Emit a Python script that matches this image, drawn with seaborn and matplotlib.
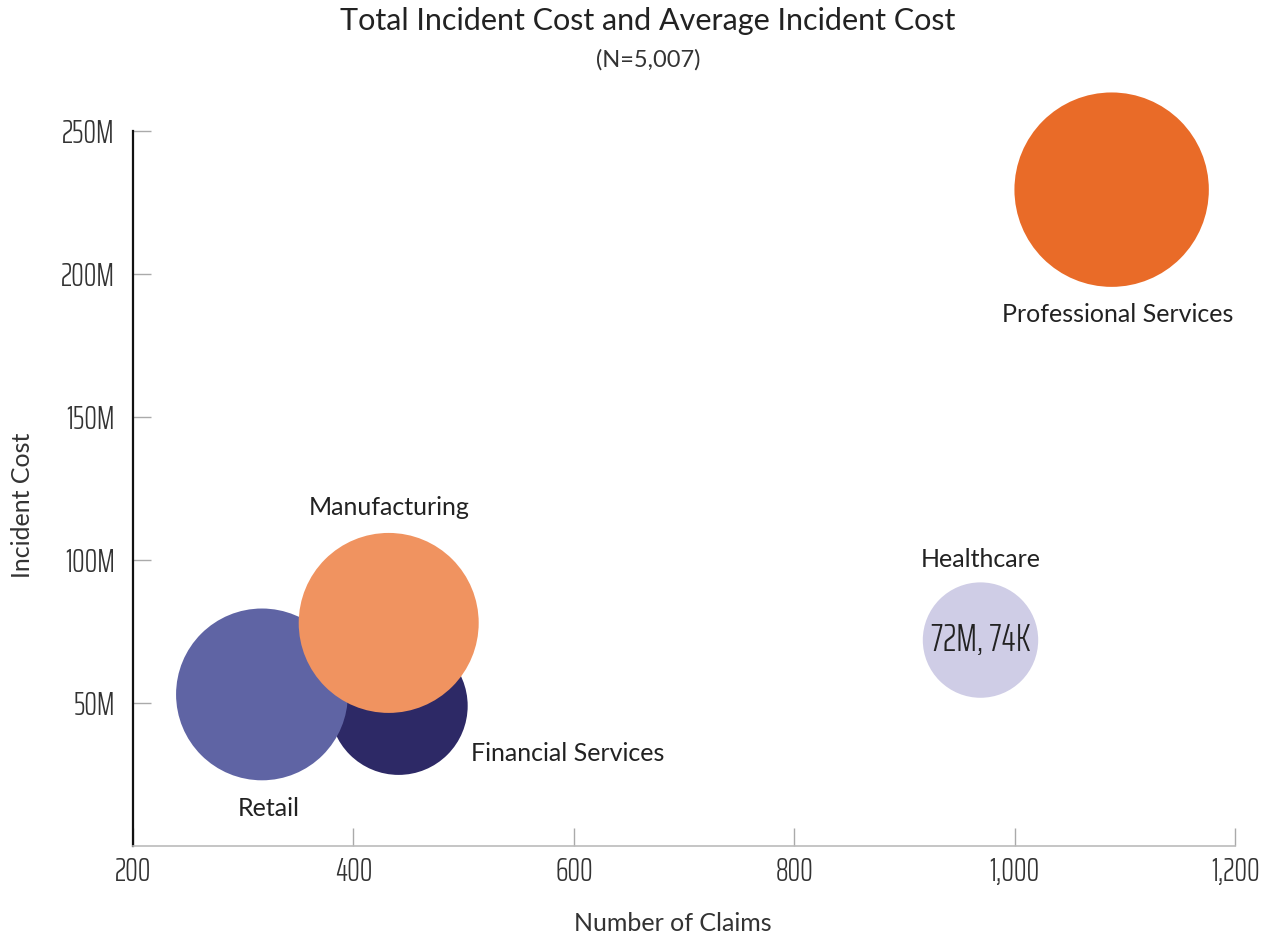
import matplotlib
matplotlib.use("Agg")
import matplotlib.pyplot as plt
import seaborn as sns
import pandas as pd
from matplotlib.ticker import FuncFormatter, FixedLocator

# Industry data: claims count, total incident cost (millions), average cost (thousands)
industries = ["Professional Services", "Healthcare", "Financial Services", "Retail", "Manufacturing"]
claims = [1088, 969, 441, 317, 432]
total_cost_m = [229.5, 72, 49, 53, 78]
avg_cost_k = [210, 74, 106, 164, 180]
colors = ["#E96B28", "#CFCDE6", "#2D2966", "#5F64A4", "#F09360"]

x_ticks = [200, 400, 600, 800, 1000, 1200]
y_ticks = [50, 100, 150, 200, 250]

sns.set_theme(style="white")
plt.rcParams["font.family"] = ["Lato", "DejaVu Sans"]

df = pd.DataFrame({"industry": industries, "claims": claims,
                   "cost": total_cost_m, "avg": avg_cost_k})

fig = plt.figure(figsize=(12.73, 9.38), dpi=100)
ax = fig.add_axes([0.1045, 0.0981, 0.8657, 0.7622])

# bubble area proportional to average incident cost
area_per_k = 93.3
sns.scatterplot(data=df, x="claims", y="cost", hue="industry",
                palette=dict(zip(industries, colors)), size="avg",
                sizes=(0, 250 * area_per_k), size_norm=(0, 250),
                linewidth=0, alpha=1, legend=False, ax=ax, clip_on=False)

ax.set_xlim(200, 1200)
ax.set_ylim(0, 250)

narrow = ["Saira ExtraCondensed", "DejaVu Sans"]
ax.xaxis.set_major_locator(FixedLocator(x_ticks))
ax.yaxis.set_major_locator(FixedLocator(y_ticks))
ax.xaxis.set_major_formatter(FuncFormatter(lambda v, p: f"{v:,.0f}"))
ax.yaxis.set_major_formatter(FuncFormatter(lambda v, p: f"{v:.0f}M"))
for lab in ax.get_xticklabels() + ax.get_yticklabels():
    lab.set_family(narrow)
    lab.set_fontweight(300)
    lab.set_fontsize(23)
    lab.set_color("#333333")

ax.tick_params(axis="x", direction="in", length=13, width=1, color="#aaaaaa", pad=8,
               bottom=True)
ax.tick_params(axis="y", direction="in", length=13, width=1, color="#aaaaaa", pad=13,
               left=True)

for s in ["top", "right"]:
    ax.spines[s].set_visible(False)
ax.spines["left"].set_color("#111111")
ax.spines["left"].set_linewidth(1.6)
ax.spines["bottom"].set_color("#bbbbbb")
ax.spines["bottom"].set_linewidth(1.2)

ax.set_xlabel("Number of Claims", fontsize=18, color="#333333")
ax.set_ylabel("Incident Cost", fontsize=18, color="#333333")
ax.xaxis.set_label_coords(0.49, -0.092)
ax.yaxis.set_label_coords(-0.09, 0.477)

# category labels placed around each bubble (offsets in points)
label_pos = {
    "Professional Services": ((4, -90), "center", "center"),
    "Healthcare": ((0, 58), "center", "center"),
    "Financial Services": ((52, -34), "left", "center"),
    "Retail": ((5, -82), "center", "center"),
    "Manufacturing": ((0, 83), "center", "center"),
}
for name, x, y in zip(industries, claims, total_cost_m):
    off, ha, va = label_pos[name]
    ax.annotate(name, (x, y), xytext=off, textcoords="offset points",
                ha=ha, va=va, fontsize=18, color="#222222",
                annotation_clip=False)

# value label inside the Healthcare bubble
hi = industries.index("Healthcare")
ax.annotate(f"{total_cost_m[hi]:.0f}M, {avg_cost_k[hi]:.0f}K",
            (claims[hi], total_cost_m[hi]), ha="center", va="center",
            fontsize=27, color="#222222", family=narrow, fontweight=300)

fig.text(0.509, 0.978, "Total Incident Cost and Average Incident Cost",
         ha="center", va="center", fontsize=22, color="#222222")
fig.text(0.509, 0.936, "(N=5,007)", ha="center", va="center",
         fontsize=17, color="#333333")

fig.savefig("out.png", dpi=100)
